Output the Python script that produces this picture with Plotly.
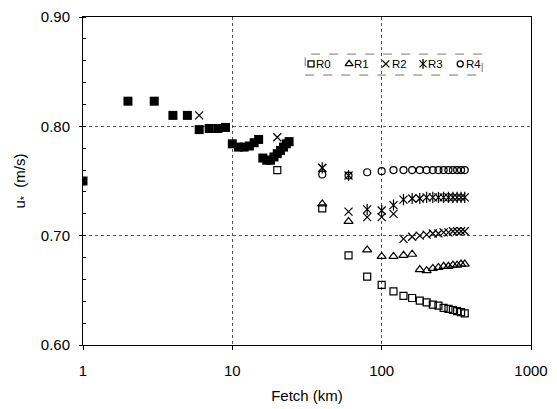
import plotly.graph_objects as go

# Short fetches: all five runs give the same friction velocity
fetch_near = [1, 2, 3, 4, 5, 6, 7, 8, 9, 10, 11, 12, 13, 14, 15,
              16, 17, 18, 19, 20, 21, 22, 23, 24]
u_near = [0.750, 0.823, 0.823, 0.810, 0.810, 0.797, 0.798, 0.798, 0.799,
          0.784, 0.781, 0.781, 0.782, 0.785, 0.788,
          0.771, 0.769, 0.769, 0.772, 0.775, 0.778, 0.781, 0.784, 0.786]

# Points where individual runs split from the shared values at short fetch
fetch_split = {"R0": [20], "R2": [6, 20]}
u_split = {"R0": [0.760], "R2": [0.810, 0.790]}

# Longer fetches, per run
fetch_far = [40, 60, 80, 100, 120, 140, 160, 180, 200, 220, 240, 260, 280,
             300, 320, 340, 360]
u_R0 = [0.725, 0.682, 0.6625, 0.655, 0.649, 0.645, 0.643, 0.6405, 0.639,
        0.637, 0.636, 0.634, 0.633, 0.632, 0.631, 0.630, 0.629]
u_R1 = [0.729, 0.713, 0.687, 0.681, 0.681, 0.682, 0.683, 0.669, 0.668,
        0.670, 0.671, 0.672, 0.672, 0.673, 0.673, 0.674, 0.674]
u_R2 = [0.762, 0.722, 0.717, 0.717, 0.720, 0.697, 0.699, 0.700, 0.701,
        0.702, 0.702, 0.703, 0.703, 0.704, 0.704, 0.704, 0.704]
u_R3 = [0.762, 0.755, 0.724, 0.723, 0.728, 0.733, 0.734, 0.734, 0.735,
        0.735, 0.735, 0.735, 0.735, 0.735, 0.735, 0.735, 0.735]
u_R4 = [0.756, 0.755, 0.758, 0.759, 0.760, 0.760, 0.760, 0.760, 0.760,
        0.760, 0.760, 0.760, 0.760, 0.760, 0.760, 0.760, 0.760]

run_names = ["R0", "R1", "R2", "R3", "R4"]
run_values = [u_R0, u_R1, u_R2, u_R3, u_R4]
# each run may be drawn with several overlaid symbols (R3: cross + vertical bar = star)
run_symbols = [["square-open"], ["triangle-up-open"], ["x-thin-open"],
               ["x-thin-open", "line-ns-open"], ["circle-open"]]
run_sizes = [7, 8, 8, 8, 7]

x_ticks = [1, 10, 100, 1000]
y_ticks = [0.60, 0.70, 0.80, 0.90]

FONT = "Arial, Liberation Sans, sans-serif"

# Legend layout, in fractions of the plotting area
LEG_BOX = dict(x0=0.496, x1=0.891, y0=0.823, y1=0.887)
LEG_Y = 0.857
LEG_SYM_X = [0.509, 0.594, 0.676, 0.759, 0.842]
LEG_TXT_X = [0.521, 0.606, 0.689, 0.771, 0.854]

fig = go.Figure()

fig.add_trace(go.Scatter(
    x=fetch_near, y=u_near, mode="markers", showlegend=False,
    marker=dict(symbol="square", size=9, color="black"),
))

for name, vals, syms, size in zip(run_names, run_values, run_symbols, run_sizes):
    xs = fetch_split.get(name, []) + fetch_far
    ys = u_split.get(name, []) + vals
    for sym in syms:
        fig.add_trace(go.Scatter(
            x=xs, y=ys, mode="markers", name=name, showlegend=False,
            marker=dict(symbol=sym, size=size, color="black",
                        line=dict(color="black", width=1.2)),
        ))

# Legend: white dashed frame above the grid, symbols on an overlay axis, labels as text
fig.add_shape(type="rect", xref="paper", yref="paper", **LEG_BOX,
              line=dict(color="#777", width=1, dash="dash"),
              fillcolor="white", layer="between")
for name, syms, size, sx, tx in zip(run_names, run_symbols, run_sizes,
                                    LEG_SYM_X, LEG_TXT_X):
    for sym in syms:
        fig.add_trace(go.Scatter(
            x=[sx], y=[LEG_Y], xaxis="x2", yaxis="y2", mode="markers",
            showlegend=False, hoverinfo="skip",
            marker=dict(symbol=sym, size=size - 1, color="black",
                        line=dict(color="black", width=1.3)),
        ))
    fig.add_annotation(xref="paper", yref="paper", x=tx, y=LEG_Y,
                       text=name, showarrow=False,
                       font=dict(family=FONT, size=11.5, color="black"),
                       xanchor="left", yanchor="middle", xshift=-2)

fig.update_layout(
    width=557, height=409,
    margin=dict(l=83, r=26, t=17, b=64),
    paper_bgcolor="white", plot_bgcolor="white",
    font=dict(family=FONT, size=15, color="black"),
    xaxis2=dict(overlaying="x", range=[0, 1], visible=False),
    yaxis2=dict(overlaying="y", range=[0, 1], visible=False),
)

fig.update_layout(xaxis=dict(
    type="log", range=[0, 3], automargin=False,
    tickvals=x_ticks, ticktext=[str(v) for v in x_ticks],
    showline=True, linecolor="black", linewidth=1, mirror=True,
    ticks="outside", ticklen=4, tickcolor="black",
    ticklabelstandoff=8,
    showgrid=True, gridcolor="#555", griddash="dot", gridwidth=1,
    zeroline=False,
    title=dict(text="Fetch (km)", font=dict(size=15), standoff=12),
))

fig.update_layout(yaxis=dict(
    range=[0.60, 0.90], automargin=False,
    tickvals=y_ticks, ticktext=[f"{v:.2f}" for v in y_ticks],
    showline=True, linecolor="black", linewidth=1, mirror=True,
    ticks="outside", ticklen=3, tickcolor="black",
    ticklabelstandoff=6,
    minor=dict(dtick=0.02, ticks="inside", ticklen=3, tickcolor="black",
               showgrid=False),
    showgrid=True, gridcolor="#555", griddash="dot", gridwidth=1,
    zeroline=False,
    title=dict(text="u<sub>*</sub>  (m/s)", font=dict(size=15), standoff=11),
))

fig.write_html("out.html")
